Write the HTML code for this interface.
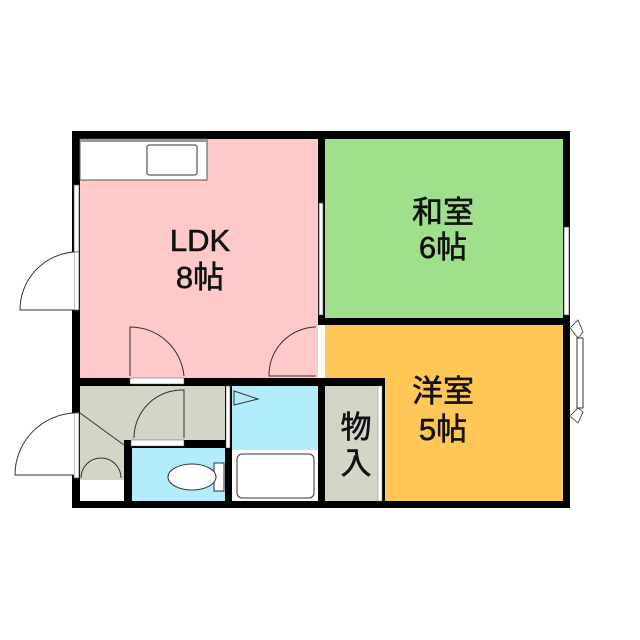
<!DOCTYPE html>
<html><head><meta charset="utf-8"><style>body{margin:0;background:#fff}svg{display:block}</style></head>
<body>
<svg width="640" height="640" viewBox="0 0 640 640" xmlns="http://www.w3.org/2000/svg" font-family="Liberation Sans, Noto Sans CJK JP, sans-serif">
<rect x="72" y="131" width="498" height="377" fill="#000"/>
<rect x="80" y="139" width="238" height="239" fill="#ffc9c9"/>
<rect x="325" y="139" width="238" height="179" fill="#a0e08c"/>
<rect x="385" y="325" width="178" height="176" fill="#ffc856"/>
<rect x="325" y="325" width="60" height="53" fill="#ffc856"/>
<rect x="318" y="325" width="7" height="53" fill="#fff"/>
<rect x="80" y="386" width="145" height="54" fill="#d6d3c7"/>
<rect x="80" y="386" width="44" height="94" fill="#d6d3c7"/>
<rect x="80" y="480" width="44" height="21" fill="#fff"/>
<rect x="132" y="448" width="93" height="53" fill="#b3ecfb"/>
<rect x="232" y="386" width="86" height="64" fill="#b3ecfb"/>
<rect x="232" y="450" width="86" height="51" fill="#fff"/>
<rect x="325" y="386" width="53" height="115" fill="#d6d3c7"/>
<rect x="378" y="386" width="4" height="115" fill="#fff" stroke="#888" stroke-width="0.5"/>
<rect x="124" y="440" width="8" height="68" fill="#000"/>
<rect x="124" y="440" width="101" height="8" fill="#000"/>
<rect x="131" y="440" width="53" height="6" fill="#fff" stroke="#555" stroke-width="0.5"/>
<rect x="225" y="386" width="7" height="122" fill="#000"/>
<rect x="226" y="386" width="4" height="62" fill="#fff" stroke="#555" stroke-width="0.5"/>
<rect x="130" y="378" width="54" height="6" fill="#fff" stroke="#555" stroke-width="0.5"/>
<rect x="80" y="139" width="127" height="41" fill="#fff" stroke="#555" stroke-width="1"/>
<rect x="80" y="139" width="127" height="3" fill="#999"/>
<rect x="147" y="145" width="50" height="30" rx="2" fill="#fff" stroke="#333"/>
<rect x="74" y="185" width="5" height="67" fill="#fff" stroke="#555" stroke-width="0.7"/>
<rect x="74" y="252" width="5" height="58" fill="#fff" stroke="#555" stroke-width="0.7"/>
<path d="M74 252 A58 58 0 0 0 20 310 H74" fill="#fff" stroke="#333"/>
<rect x="74" y="413" width="5" height="65" fill="#fff" stroke="#555" stroke-width="0.7"/>
<path d="M74 413 A62 62 0 0 0 15 475 H74" fill="#fff" stroke="#333"/>
<rect x="319" y="203" width="4" height="112" fill="#fff" stroke="#555" stroke-width="0.7"/>
<rect x="564" y="227" width="5" height="88" fill="#fff" stroke="#555" stroke-width="0.7"/>
<rect x="577" y="338" width="6" height="70" fill="#fff" stroke="#333"/>
<path d="M570 328 L578 320 L583 332 L578 338 Z M570 416 L578 423 L583 412 L578 408 Z" fill="#fff" stroke="#333" stroke-width="0.8"/>
<path d="M130 376 V327 A54 54 0 0 1 184 376" fill="none" stroke="#333"/>
<path d="M316 376 H269 A48 48 0 0 1 316 327" fill="none" stroke="#333"/>
<path d="M184 438 V390 A48 48 0 0 0 134 438" fill="none" stroke="#333"/>
<path d="M80 413 L124 445" stroke="#333"/>
<path d="M81 478 A20 20 0 0 1 101 458 A20 20 0 0 1 121 478" fill="none" stroke="#333"/>
<path d="M234 391 L258 399 L234 405 Z" fill="none" stroke="#333"/>
<rect x="214" y="463" width="10" height="28" fill="#fff" stroke="#333"/>
<ellipse cx="192" cy="477" rx="24" ry="13" fill="#fff" stroke="#333"/>
<rect x="237" y="454" width="77" height="44" rx="5" fill="#fff" stroke="#333"/>
<g font-size="31" text-anchor="middle" fill="#111" stroke="#111" stroke-width="0.6">
<text x="200" y="251">LDK</text>
<text x="200" y="288">8帖</text>
<text x="443" y="223">和室</text>
<text x="443" y="258">6帖</text>
<text x="443" y="402">洋室</text>
<text x="443" y="440">5帖</text>
<text x="356" y="438">物</text>
<text x="356" y="474">入</text>
</g>
</svg>
</body></html>
